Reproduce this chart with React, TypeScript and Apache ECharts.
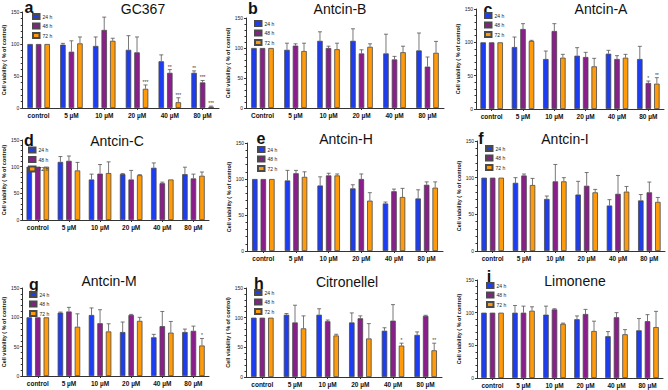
import React, { useEffect, useRef } from "react";
import * as echarts from "echarts";

const CATEGORIES = ["control", "5 µM", "10 µM", "20 µM", "40 µM", "80 µM"];
const CATEGORIES_CAP = ["Control", "5 µM", "10 µM", "20 µM", "40 µM", "80 µM"];
const SERIES_NAMES = ["24 h", "48 h", "72 h"];
const Y_AXIS_NAME = "Cell viability ( % of control)";

// Panel a: GC367
const GC367_MEAN = [
  [100, 99, 97, 91, 73, 55],
  [100, 88, 122, 87, 55, 40],
  [100, 101, 105, 30, 9, 2],
];
const GC367_SD = [
  [0, 2, 14, 22, 10, 3],
  [0, 17, 20, 24, 5, 3],
  [0, 10, 4, 6, 7, 1],
];
const GC367_SIG = [
  ["", "", "", "", "", "**"],
  ["", "", "", "", "**", "***"],
  ["", "", "", "***", "***", "***"],
];

// Panel b: Antcin-B
const ANTCIN_B_MEAN = [
  [100, 97, 112, 112, 91, 96],
  [100, 104, 100, 91, 81, 69],
  [100, 95, 98, 102, 93, 92],
];
const ANTCIN_B_SD = [
  [0, 11, 15, 20, 32, 29],
  [0, 3, 3, 6, 5, 16],
  [0, 13, 10, 5, 10, 19],
];

// Panel c: Antcin-A
const ANTCIN_A_MEAN = [
  [100, 93, 75, 80, 83, 75],
  [100, 120, 117, 78, 75, 39],
  [100, 102, 77, 64, 77, 38],
];
const ANTCIN_A_SD = [
  [0, 15, 12, 12, 5, 19],
  [0, 8, 11, 7, 5, 3],
  [0, 1, 5, 12, 5, 9],
];
const ANTCIN_A_SIG = [
  ["", "", "", "", "", ""],
  ["", "", "", "", "", "*"],
  ["", "", "", "", "", "**"],
];

// Panel d: Antcin-C
const ANTCIN_C_MEAN = [
  [100, 109, 76, 86, 98, 86],
  [100, 111, 87, 76, 69, 78],
  [100, 93, 88, 84, 76, 83],
];
const ANTCIN_C_SD = [
  [0, 10, 10, 1, 9, 13],
  [0, 9, 17, 17, 2, 8],
  [0, 15, 21, 1, 0, 7],
];

// Panel e: Antcin-H
const ANTCIN_H_MEAN = [
  [100, 98, 91, 87, 66, 73],
  [100, 108, 105, 100, 83, 92],
  [100, 103, 105, 70, 75, 88],
];
const ANTCIN_H_SD = [
  [0, 14, 12, 5, 2, 12],
  [0, 4, 3, 7, 3, 4],
  [0, 7, 2, 11, 12, 8],
];

// Panel f: Antcin-I
const ANTCIN_I_MEAN = [
  [100, 93, 71, 77, 62, 69],
  [100, 103, 95, 89, 78, 80],
  [100, 90, 95, 80, 81, 67],
];
const ANTCIN_I_SD = [
  [0, 7, 4, 18, 8, 8],
  [0, 2, 23, 18, 25, 14],
  [0, 9, 5, 4, 7, 6],
];

// Panel g: Antcin-M
const ANTCIN_M_MEAN = [
  [100, 108, 104, 75, 66, 75],
  [100, 110, 90, 104, 85, 77],
  [100, 84, 76, 94, 74, 52],
];
const ANTCIN_M_SD = [
  [0, 1, 12, 17, 5, 5],
  [0, 7, 23, 1, 25, 8],
  [0, 22, 13, 6, 19, 12],
];
const ANTCIN_M_SIG = [
  ["", "", "", "", "", ""],
  ["", "", "", "", "", ""],
  ["", "", "", "", "", "*"],
];

// Panel h: Citronellel
const CITRONELLEL_MEAN = [
  [100, 105, 105, 92, 78, 71],
  [100, 92, 94, 99, 95, 103],
  [100, 82, 70, 65, 53, 45],
];
const CITRONELLEL_SD = [
  [0, 2, 10, 16, 5, 5],
  [0, 29, 2, 4, 27, 1],
  [0, 21, 2, 25, 4, 12],
];
const CITRONELLEL_SIG = [
  ["", "", "", "", "", ""],
  ["", "", "", "", "", ""],
  ["", "", "", "", "*", "**"],
];

// Panel i: Limonene
const LIMONENE_MEAN = [
  [100, 100, 97, 90, 64, 73],
  [100, 100, 105, 98, 93, 87],
  [100, 103, 83, 72, 67, 78],
];
const LIMONENE_SD = [
  [0, 11, 13, 5, 7, 18],
  [0, 10, 1, 7, 7, 10],
  [0, 6, 1, 15, 7, 24],
];

const COLORS = ["#1d3df2", "#8a1f8c", "#ff9a0a"];
const BAR_W = 5.5;
const BAR_GAP = 0.55;
const STEP = BAR_W * (1 + BAR_GAP);

type Panel = {
  letter: string;
  title: string;
  cats: string[];
  mean: number[][];
  sd: number[][];
  sig?: string[][];
  grid: { left: number; top: number; width: number; height: number };
  letterPos: [number, number];
  titlePos: [number, number];
  legendPos: [number, number];
  nameGap: number;
};

const PANELS: Panel[] = [
  { letter: "a", title: "GC367", cats: CATEGORIES, mean: GC367_MEAN, sd: GC367_SD, sig: GC367_SIG,
    grid: { left: 20, top: 12, width: 199, height: 96 }, letterPos: [29, 7], titlePos: [143, 9], legendPos: [32, 13], nameGap: 11 },
  { letter: "b", title: "Antcin-B", cats: CATEGORIES_CAP, mean: ANTCIN_B_MEAN, sd: ANTCIN_B_SD,
    grid: { left: 246, top: 18, width: 198, height: 90 }, letterPos: [253, 8], titlePos: [340, 9], legendPos: [254, 20], nameGap: 11 },
  { letter: "c", title: "Antcin-A", cats: CATEGORIES, mean: ANTCIN_A_MEAN, sd: ANTCIN_A_SD, sig: ANTCIN_A_SIG,
    grid: { left: 476, top: 9, width: 188, height: 100 }, letterPos: [488, 9], titlePos: [601, 9], legendPos: [484, 12], nameGap: 14 },
  { letter: "d", title: "Antcin-C", cats: CATEGORIES, mean: ANTCIN_C_MEAN, sd: ANTCIN_C_SD,
    grid: { left: 21, top: 140, width: 188, height: 80 }, letterPos: [29, 140], titlePos: [117, 141], legendPos: [28, 146.5], nameGap: 11 },
  { letter: "e", title: "Antcin-H", cats: CATEGORIES, mean: ANTCIN_H_MEAN, sd: ANTCIN_H_SD,
    grid: { left: 247, top: 143, width: 196, height: 108 }, letterPos: [261, 138], titlePos: [346, 139], legendPos: [257, 146], nameGap: 11 },
  { letter: "f", title: "Antcin-I", cats: CATEGORIES, mean: ANTCIN_I_MEAN, sd: ANTCIN_I_SD,
    grid: { left: 477, top: 141, width: 188, height: 110 }, letterPos: [481, 138], titlePos: [565, 139], legendPos: [485, 145], nameGap: 14 },
  { letter: "g", title: "Antcin-M", cats: CATEGORIES, mean: ANTCIN_M_MEAN, sd: ANTCIN_M_SD, sig: ANTCIN_M_SIG,
    grid: { left: 21, top: 288, width: 188, height: 88 }, letterPos: [34, 284], titlePos: [109, 281], legendPos: [29, 291], nameGap: 11 },
  { letter: "h", title: "Citronellel", cats: CATEGORIES, mean: CITRONELLEL_MEAN, sd: CITRONELLEL_SD, sig: CITRONELLEL_SIG,
    grid: { left: 246, top: 288, width: 196, height: 89 }, letterPos: [259, 283], titlePos: [347, 282], legendPos: [254, 289], nameGap: 11 },
  { letter: "i", title: "Limonene", cats: CATEGORIES, mean: LIMONENE_MEAN, sd: LIMONENE_SD,
    grid: { left: 477, top: 280, width: 186, height: 98 }, letterPos: [489, 276], titlePos: [575, 281], legendPos: [486, 282], nameGap: 14 },
];

export default function App() {
  const ref = useRef<HTMLDivElement>(null);
  useEffect(() => {
    if (!ref.current) return;
    const chart = echarts.init(ref.current, undefined, { renderer: "svg" });
    const grids: any[] = [];
    const xAxes: any[] = [];
    const yAxes: any[] = [];
    const series: any[] = [];
    const legends: any[] = [];
    const graphics: any[] = [];

    PANELS.forEach((p, pi) => {
      grids.push({ ...p.grid, containLabel: false });
      xAxes.push({
        type: "category",
        gridIndex: pi,
        data: p.cats,
        axisLine: { show: true, lineStyle: { color: "#333", width: 1 } },
        axisTick: { show: true, alignWithLabel: true, length: 2, lineStyle: { color: "#333" } },
        axisLabel: { fontSize: 6.5, fontWeight: "bold", color: "#111", margin: 4, interval: 0, fontFamily: "Liberation Sans" },
        splitLine: { show: false },
      });
      yAxes.push({
        type: "value",
        gridIndex: pi,
        min: 0,
        max: 150,
        interval: 50,
        name: Y_AXIS_NAME,
        nameLocation: "middle",
        nameRotate: 90,
        nameGap: p.nameGap,
        nameTextStyle: { fontSize: 5.5, fontWeight: "bold", color: "#111", fontFamily: "Liberation Sans" },
        axisLine: { show: true, lineStyle: { color: "#333", width: 1 } },
        axisTick: { show: true, length: 2, lineStyle: { color: "#333" } },
        minorTick: { show: true, splitNumber: 5, length: 1.5, lineStyle: { color: "#333" } },
        axisLabel: { fontSize: 5, color: "#222", margin: 3, fontFamily: "Liberation Sans" },
        splitLine: { show: false },
      });
      for (let s = 0; s < 3; s++) {
        series.push({
          type: "bar",
          name: SERIES_NAMES[s],
          xAxisIndex: pi,
          yAxisIndex: pi,
          data: p.mean[s],
          barWidth: BAR_W,
          barGap: `${BAR_GAP * 100}%`,
          itemStyle: { color: COLORS[s], borderColor: "#4a4a4a", borderWidth: 0.8 },
          z: 2,
        });
      }
      const errData: number[][] = [];
      const sigs: string[] = [];
      for (let s = 0; s < 3; s++) {
        for (let c = 0; c < p.cats.length; c++) {
          errData.push([c, p.mean[s][c], p.sd[s][c], s]);
          sigs.push(p.sig ? p.sig[s][c] : "");
        }
      }
      series.push({
        type: "custom",
        xAxisIndex: pi,
        yAxisIndex: pi,
        data: errData,
        encode: { x: 0, y: 1 },
        z: 3,
        silent: true,
        renderItem: (params: any, api: any) => {
          const c = api.value(0);
          const m = api.value(1);
          const sd = api.value(2);
          const s = api.value(3);
          const base = api.coord([c, m]);
          const top = api.coord([c, m + sd]);
          const x = base[0] + (s - 1) * STEP;
          const children: any[] = [];
          if (sd > 0) {
            children.push({
              type: "line",
              shape: { x1: x, y1: base[1], x2: x, y2: top[1] },
              style: { stroke: "#555", lineWidth: 0.8 },
            });
            children.push({
              type: "line",
              shape: { x1: x - 2, y1: top[1], x2: x + 2, y2: top[1] },
              style: { stroke: "#555", lineWidth: 0.8 },
            });
          }
          const sig = sigs[params.dataIndex];
          if (sig) {
            children.push({
              type: "text",
              x: x,
              y: top[1] - 0.5,
              style: { text: sig, fontSize: 5, fill: "#333", align: "center", verticalAlign: "bottom", fontFamily: "Liberation Sans" },
            });
          }
          return { type: "group", children };
        },
      });
      legends.push({
        orient: "vertical",
        left: p.legendPos[0],
        top: p.legendPos[1],
        data: SERIES_NAMES,
        icon: "rect",
        itemWidth: 6.5,
        itemHeight: 5,
        itemGap: 2.5,
        selectedMode: false,
        padding: 0,
        textStyle: { fontSize: 5, color: "#222", padding: [0, 0, 0, -2], fontFamily: "Liberation Sans" },
      });
      graphics.push({
        type: "text",
        x: p.letterPos[0],
        y: p.letterPos[1],
        style: { text: p.letter, fontSize: 16, fontWeight: "bold", fill: "#111", align: "center", verticalAlign: "middle", fontFamily: "Liberation Sans" },
      });
      graphics.push({
        type: "text",
        x: p.titlePos[0],
        y: p.titlePos[1],
        style: { text: p.title, fontSize: 14, fill: "#111", align: "center", verticalAlign: "middle", fontFamily: "Liberation Sans" },
      });
    });

    chart.setOption({
      animation: false,
      backgroundColor: "#ffffff",
      grid: grids,
      xAxis: xAxes,
      yAxis: yAxes,
      legend: legends,
      series,
      graphic: graphics,
    });
    return () => chart.dispose();
  }, []);
  return (
    <div
      ref={ref}
      style={{ position: "fixed", left: 0, top: 0, width: 668, height: 390, background: "#fff" }}
    />
  );
}
